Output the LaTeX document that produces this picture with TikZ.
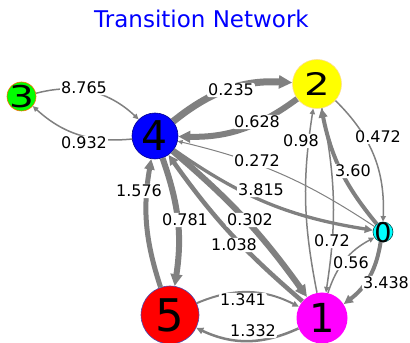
\documentclass[tikz,border=0pt]{standalone}
\usepackage{fontspec}
\setmainfont{DejaVu Sans}
\usetikzlibrary{arrows.meta}

\definecolor{edgegray}{HTML}{808080}
\definecolor{titleblue}{HTML}{0000FF}
\definecolor{stgreen}{HTML}{00FF00}
\definecolor{stblue}{HTML}{0000FF}
\definecolor{styellow}{HTML}{FFFF00}
\definecolor{stcyan}{HTML}{00FFFF}
\definecolor{stred}{HTML}{FF0000}
\definecolor{stmagenta}{HTML}{FF00FF}

% a digit of the given size, centred on the node centre and taking no room
\newcommand\statedigit[2]{{\fontsize{#1}{#1}\selectfont\makebox[0pt]{\smash{\raisebox{-0.5\height}{#2}}}}}

\tikzset{
  state/.style={circle, inner sep=0pt, line width=0.6pt},
  link/.style={draw=edgegray, line width=#1,
    -{Triangle[length=3.5pt 1.4, width=3pt 1.4]}},
  wlabel/.style={fill=white, inner sep=1pt, rounded corners=2pt,
    font=\fontsize{16pt}{16pt}\selectfont},
}

\begin{document}
\begin{tikzpicture}[x=1pt, y=1pt]
\useasboundingbox (0,0) rectangle (410,343);

% title
\node[text=titleblue, font=\fontsize{23pt}{23pt}\selectfont] (title) at (201.5,324) {Transition Network};

% states
\node[state, minimum size=29pt, fill=stgreen, draw=orange!85!red] (n3) at (21.5,246.5)
  {\statedigit{30pt}{\scalebox{1.3}[1]{3}}};
\node[state, minimum size=46pt, fill=stblue, draw=blue!55!black] (n4) at (155,207)
  {\statedigit{41pt}{4}};
\node[state, minimum size=49pt, fill=styellow, draw=yellow!70!red!40] (n2) at (317,259)
  {\statedigit{31pt}{\scalebox{1.3}[1]{2}}};
\node[state, minimum size=20pt, fill=stcyan, draw=teal!60!black] (n0) at (383,111)
  {\statedigit{27pt}{0}};
\node[state, minimum size=58pt, fill=stred, draw=blue!40!gray] (n5) at (170,28)
  {\statedigit{45pt}{5}};
\node[state, minimum size=51pt, fill=stmagenta] (n1) at (322,25)
  {\statedigit{40pt}{1}};

% transitions
\draw[link=1.5pt] (n3) to[bend left=29] (n4);
\draw[link=1.5pt] (n4) to[bend left=24] (n3);
\draw[link=7pt]   (n4) to[bend left=21] (n2);
\draw[link=6pt]   (n2) to[bend left=19] (n4);
\draw[link=1pt]   (n0) to[bend right=10] (n4);
\draw[link=3.3pt] (n4) to[bend right=13] (n0);
\draw[link=5pt]   (n5) to[bend left=14] (n4);
\draw[link=6pt]   (n4) to[bend left=14] (n5);
\draw[link=6pt]   (n4) to[bend left=7] (n1);
\draw[link=4.5pt] (n1) to[bend left=7] (n4);
\draw[link=2pt]   (n5) to[bend left=25] (n1);
\draw[link=2.5pt] (n1) to[bend left=25] (n5);
\draw[link=1.5pt] (n1) to[bend left=10] (n2);
\draw[link=1.5pt] (n2) to[bend left=10] (n1);
\draw[link=4pt]   (n0) to[bend left=14] (n2);
\draw[link=1.5pt] (n2) to[bend left=24] (n0);
\draw[link=4pt]   (n0) to[bend left=22] (n1);
\draw[link=1.5pt] (n1) to[bend left=22] (n0);

% weights
\node[wlabel] (w34) at (84,255) {8.765};
\node[wlabel] (w43) at (84,200) {0.932};
\node[wlabel] (w42) at (231,253) {0.235};
\node[wlabel] (w24) at (257,221) {0.628};
\node[wlabel] (w12) at (301,202) {0.98};
\node[wlabel] (w20) at (378,206) {0.472};
\node[wlabel] (w04) at (257,182) {0.272};
\node[wlabel] (w02) at (353,172) {3.60};
\node[wlabel] (w40) at (261,153) {3.815};
\node[wlabel] (w54) at (139,152) {1.576};
\node[wlabel] (w45) at (185,123) {0.781};
\node[wlabel] (w41) at (250,123) {0.302};
\node[wlabel] (w14) at (234,98) {1.038};
\node[wlabel] (w21) at (332,102) {0.72};
\node[wlabel] (w10) at (351,80) {0.56};
\node[wlabel] (w01) at (386,60) {3.438};
\node[wlabel] (w51) at (243,43) {1.341};
\node[wlabel] (w15) at (253,12) {1.332};
\end{tikzpicture}
\end{document}
